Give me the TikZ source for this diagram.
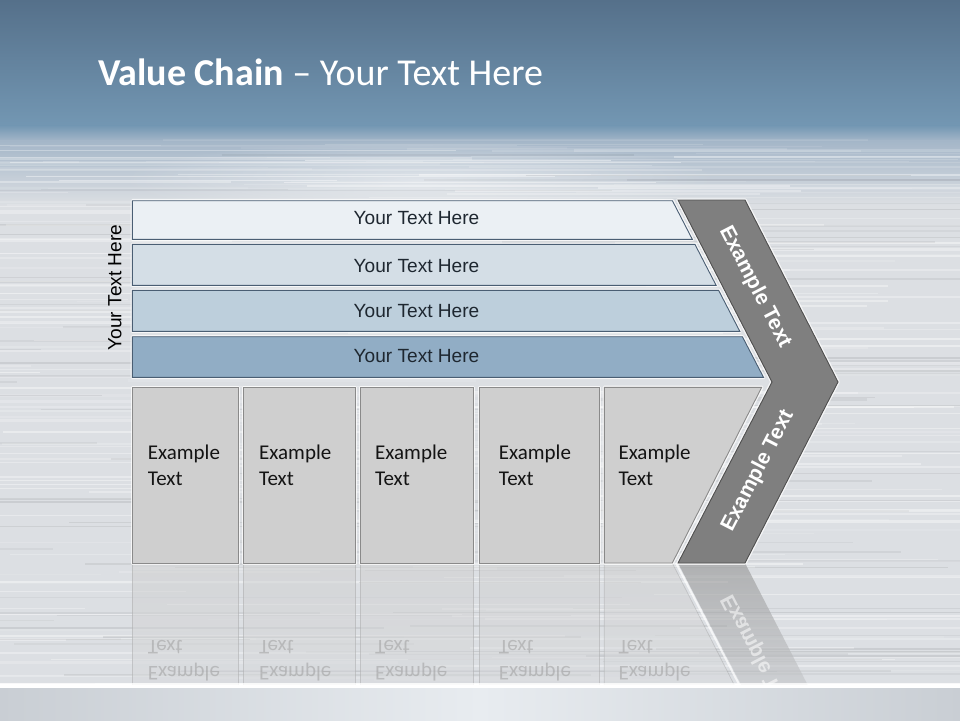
\documentclass[tikz,border=0pt]{standalone}
\usepackage{fontspec}
\setmainfont{Carlito}
\newfontfamily\arialf{Liberation Sans}
\usetikzlibrary{fadings}
\tikzfading[name=softglow, inner color=transparent!0, outer color=transparent!100]
\definecolor{topA}{HTML}{55708A}
\definecolor{topB}{HTML}{7397B3}
\definecolor{bgA}{HTML}{A4B6C8}
\definecolor{bgC}{HTML}{DCDFE3}
\definecolor{bandA}{HTML}{C9CED4}
\definecolor{bandB}{HTML}{E8ECF0}
\definecolor{barline}{HTML}{4A5E73}
\definecolor{barA}{HTML}{EBF0F4}
\definecolor{barB}{HTML}{D4DEE6}
\definecolor{barC}{HTML}{BDCFDC}
\definecolor{barD}{HTML}{91ADC5}
\definecolor{chev}{HTML}{7F7F7F}
\definecolor{chevline}{HTML}{4F4F4F}
\definecolor{boxfill}{HTML}{CFCFCF}
\definecolor{boxline}{HTML}{8A8A8A}
\definecolor{txtdark}{HTML}{1E2730}
\tikzset{
  glow/.style={draw=white, line width=3.5pt, opacity=0.75, line join=round},
  barshape/.style={draw=barline, line width=0.9pt},
  boxshape/.style={fill=boxfill, draw=boxline, line width=0.9pt},
  chevshape/.style={fill=chev, draw=chevline, line width=0.9pt, line join=miter},
  bartext/.style={font=\arialf\fontsize{19.1}{22}\selectfont, text=txtdark, inner sep=0pt},
  boxtext/.style={font=\fontsize{21}{26}\selectfont, text=black!92, align=left, inner sep=0pt, anchor=north west},
  chevtext/.style={font=\arialf\bfseries\fontsize{21}{25}\selectfont, text=white, inner sep=0pt},
  reflbox/.style={top color=boxfill, bottom color=bgC, fill opacity=0.55, draw=boxline, draw opacity=0.3, line width=0.7pt},
  refltext/.style={boxtext, text=black!40, opacity=0.5, yscale=-1},
  streak/.style={draw=white},
}
\begin{document}
\begin{tikzpicture}[x=1pt,y=-1pt]
\useasboundingbox (0,0) rectangle (960,720);
% ---------- background ----------
\fill[top color=topA, bottom color=topB] (0,0) rectangle (960,126);
\fill[top color=topB, bottom color=bgA] (0,125.5) rectangle (960,141);
\fill[top color=bgA, bottom color=bgC] (0,140.5) rectangle (960,205);
\fill[bgC] (0,204.5) rectangle (960,684);
\fill[white, path fading=softglow, opacity=0.45] (420,180) ellipse (300 and 40);
\pgfmathsetseed{11}
\foreach \i in {1,...,200}{
  \pgfmathsetmacro{\yy}{150+rnd*534}
  \pgfmathsetmacro{\xa}{-300+rnd*1000}
  \pgfmathsetmacro{\ll}{200+rnd*700}
  \pgfmathsetmacro{\op}{0.1+rnd*0.35}
  \pgfmathsetmacro{\lw}{0.8+rnd*1.8}
  \draw[streak, line width=\lw pt, opacity=\op] (\xa,\yy) -- ++(\ll,0);
}
\foreach \i in {1,...,30}{
  \pgfmathsetmacro{\yy}{138+rnd*60}
  \pgfmathsetmacro{\xa}{-300+rnd*1000}
  \pgfmathsetmacro{\ll}{200+rnd*700}
  \pgfmathsetmacro{\op}{0.06+rnd*0.15}
  \draw[streak, line width=1.2pt, opacity=\op] (\xa,\yy) -- ++(\ll,0);
}
\foreach \i in {1,...,90}{
  \pgfmathsetmacro{\yy}{150+rnd*534}
  \pgfmathsetmacro{\xa}{-300+rnd*1000}
  \pgfmathsetmacro{\ll}{200+rnd*600}
  \pgfmathsetmacro{\op}{0.03+rnd*0.05}
  \pgfmathsetmacro{\lw}{0.8+rnd*1.5}
  \draw[black, line width=\lw pt, opacity=\op] (\xa,\yy) -- ++(\ll,0);
}
% ---------- reflections ----------
\begin{scope}
\clip (0,563) rectangle (960,684);
\path[reflbox] (132.3,563) rectangle (238.7,745);
\path[reflbox] (243.3,563) rectangle (355.7,745);
\path[reflbox] (360.3,563) rectangle (473.7,745);
\path[reflbox] (479.3,563) rectangle (599.3,745);
\path[reflbox] (604.3,563) -- (672.3,563) -- (761.7,739) -- (604.3,739) -- cycle;
\path[top color=chev!85, bottom color=bgC, fill opacity=0.6] (678,563) -- (745,563) -- (838,744) -- (772,744) -- cycle;
\draw[white, line width=2pt, opacity=0.7] (676,563) -- (770,744);
\node[refltext] (rt1) at (147.7,681.4) {Example\\Text};
\node[refltext] (rt2) at (259.0,681.4) {Example\\Text};
\node[refltext] (rt3) at (375.0,681.4) {Example\\Text};
\node[refltext] (rt4) at (498.7,681.4) {Example\\Text};
\node[refltext] (rt5) at (618.3,681.4) {Example\\Text};
\node[chevtext, opacity=0.55, rotate=-62.7, yscale=-1] (rc) at (758,655) {Example Text};
\end{scope}
\fill[white, opacity=0.8] (0,683) rectangle (960,688);
\fill[left color=bandA, right color=bandA, middle color=bandB] (0,688) rectangle (960,720);
% ---------- title ----------
\node[anchor=base west, inner sep=0pt, text=white, font=\fontsize{38}{45}\selectfont] (title) at (98,85) {\textbf{Value Chain} – Your Text Here};
% ---------- bars ----------
\path[glow] (132.3,200.7) -- (672.4,200.7) -- (692.3,239.3) -- (132.3,239.3) -- cycle;
\path[glow] (132.3,244.3) -- (694.9,244.3) -- (716.1,285.3) -- (132.3,285.3) -- cycle;
\path[glow] (132.3,290.3) -- (718.6,290.3) -- (739.8,331.3) -- (132.3,331.3) -- cycle;
\path[glow] (132.3,336.7) -- (742.4,336.7) -- (763.5,377.3) -- (132.3,377.3) -- cycle;
\path[barshape, fill=barA] (132.3,200.7) -- (672.4,200.7) -- (692.3,239.3) -- (132.3,239.3) -- cycle;
\path[barshape, fill=barB] (132.3,244.3) -- (694.9,244.3) -- (716.1,285.3) -- (132.3,285.3) -- cycle;
\path[barshape, fill=barC] (132.3,290.3) -- (718.6,290.3) -- (739.8,331.3) -- (132.3,331.3) -- cycle;
\path[barshape, fill=barD] (132.3,336.7) -- (742.4,336.7) -- (763.5,377.3) -- (132.3,377.3) -- cycle;
\node[bartext] (bar1) at (416.5,218.5) {Your Text Here};
\node[bartext] (bar2) at (416.5,266.5) {Your Text Here};
\node[bartext] (bar3) at (416.5,311.5) {Your Text Here};
\node[bartext] (bar4) at (416.5,356.5) {Your Text Here};
\node[bartext, text=black, rotate=90] (side) at (115,287.5) {Your Text Here};
% ---------- boxes ----------
\path[glow] (132.3,387.3) rectangle (238.7,563);
\path[glow] (243.3,387.3) rectangle (355.7,563);
\path[glow] (360.3,387.3) rectangle (473.7,563);
\path[glow] (479.3,387.3) rectangle (599.3,563);
\path[glow] (604.3,387.3) -- (761.7,387.3) -- (672.3,563) -- (604.3,563) -- cycle;
\path[boxshape] (132.3,387.3) rectangle (238.7,563);
\path[boxshape] (243.3,387.3) rectangle (355.7,563);
\path[boxshape] (360.3,387.3) rectangle (473.7,563);
\path[boxshape] (479.3,387.3) rectangle (599.3,563);
\path[boxshape] (604.3,387.3) -- (761.7,387.3) -- (672.3,563) -- (604.3,563) -- cycle;
\node[boxtext] (box1) at (147.7,444.6) {Example\\Text};
\node[boxtext] (box2) at (259.0,444.6) {Example\\Text};
\node[boxtext] (box3) at (375.0,444.6) {Example\\Text};
\node[boxtext] (box4) at (498.7,444.6) {Example\\Text};
\node[boxtext] (box5) at (618.3,444.6) {Example\\Text};
% ---------- chevron ----------
\path[glow] (678,200) -- (745,200) -- (838,382) -- (745,563) -- (678,563) -- (772,382) -- cycle;
\path[chevshape] (678,200) -- (745,200) -- (838,382) -- (745,563) -- (678,563) -- (772,382) -- cycle;
\node[chevtext, rotate=-62.7] (chevA) at (755,287) {Example Text};
\node[chevtext, rotate=62.7] (chevB) at (758,471) {Example Text};
\end{tikzpicture}
\end{document}
